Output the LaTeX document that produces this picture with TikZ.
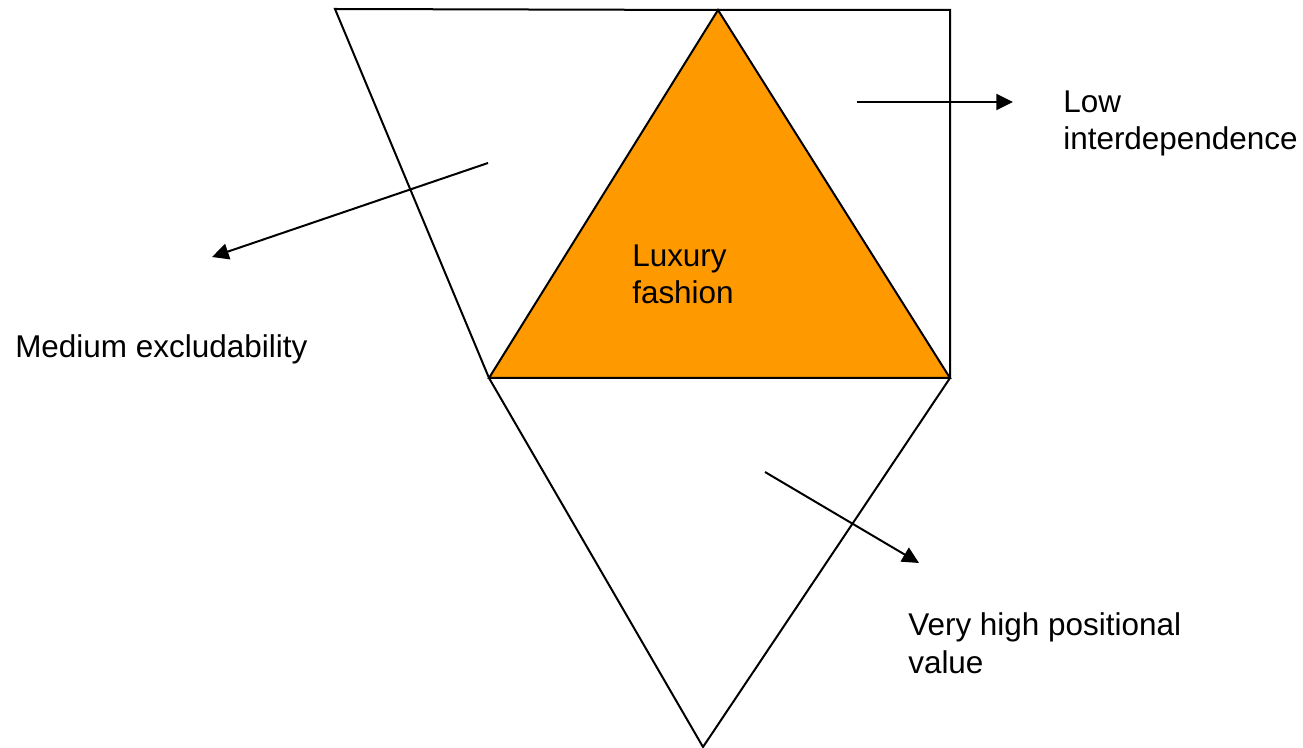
\documentclass[tikz,border=0pt]{standalone}
\usepackage{fontspec}
\setmainfont{Liberation Sans}
\usetikzlibrary{arrows.meta}
\definecolor{lux}{RGB}{255,153,0}
\tikzset{
  edge/.style={line width=1.5pt, line join=miter},
  pointer/.style={line width=1.5pt, -{Triangle[length=12.5pt,width=12pt]}},
  lbl/.style={inner sep=0pt, anchor=base west, align=left, font=\fontsize{23.6pt}{28.1pt}\selectfont}
}
\begin{document}
\begin{tikzpicture}[x=0.75pt,y=-0.75pt]
\useasboundingbox (0,0) rectangle (1303,748);
% vertices
\coordinate (TL) at (335,9);
\coordinate (A) at (718,10);
\coordinate (TR) at (950,10);
\coordinate (L) at (489,378);
\coordinate (R) at (950,378);
\coordinate (B) at (703,747);
% orange triangle
\filldraw[edge, fill=lux] (A) -- (L) -- (R) -- cycle;
% outer shapes
\draw[edge] (L) -- (TL) -- (A) -- (TR) -- (R);
\draw[edge] (L) -- (B) -- (R);
% arrows
\coordinate (a1s) at (857,102);
\coordinate (a1e) at (1013,102);
\coordinate (a2s) at (488,163);
\coordinate (a2e) at (212,257);
\coordinate (a3s) at (765,472);
\coordinate (a3e) at (919,563);
\draw[pointer] (a1s) -- (a1e);
\draw[pointer] (a2s) -- (a2e);
\draw[pointer] (a3s) -- (a3e);
% labels (anchor = baseline of last line)
\node[lbl] (low) at (1063,150) {Low\\interdependence};
\node[lbl] (lux) at (632,304) {Luxury\\fashion};
\node[lbl] (med) at (15,358) {Medium excludability};
\node[lbl] (vhp) at (908,673) {Very high positional\\value};
\end{tikzpicture}
\end{document}
